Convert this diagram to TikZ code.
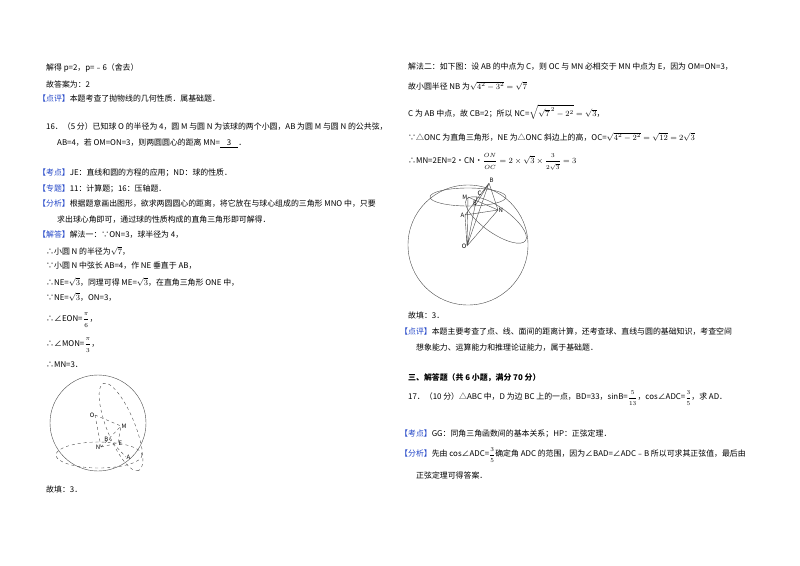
\documentclass[tikz,border=0pt]{standalone}
\usepackage{fontspec}
\setmainfont{Noto Sans CJK SC}
\usepackage{amsmath}
\definecolor{kb}{RGB}{35,70,200}
\begin{document}
\begin{tikzpicture}[x=1pt,y=-1pt,
  t/.style={anchor=west,inner sep=0pt,font=\fontsize{7.9}{9}\selectfont},
  pt/.style={font=\fontsize{6}{7}\selectfont\itshape,inner sep=0.5pt},
  g/.style={line width=0.4pt,black!70}]
\useasboundingbox[fill=white] (0,0) rectangle (800,565);
\newcommand{\kb}[1]{\textcolor{kb}{【#1】}}
\newcommand{\fr}[2]{{\displaystyle\frac{\scriptstyle #1}{\scriptstyle #2}}}
% left column
\node[t] (l1) at (46,68) {解得 p=2，p=﹣6（舍去）};
\node[t] (l2) at (46,84) {故答案为：2};
\node[t] (l3) at (38,98) {\kb{点评}本题考查了抛物线的几何性质．属基础题．};
\node[t] (l4) at (46,127) {16．（5 分）已知球 O 的半径为 4，圆 M 与圆 N 为该球的两个小圆，AB 为圆 M 与圆 N 的公共弦，};
\node[t] (l5) at (57,143) {AB=4，若 OM=ON=3，则两圆圆心的距离 MN=\underline{\ \ \ \ 3\ \ \ \ }．};
\node[t] (l6) at (38,173) {\kb{考点}JE：直线和圆的方程的应用；ND：球的性质．};
\node[t] (l7) at (38,189) {\kb{专题}11：计算题；16：压轴题．};
\node[t] (l8) at (38,204) {\kb{分析}根据题意画出图形，欲求两圆圆心的距离，将它放在与球心组成的三角形 MNO 中，只要};
\node[t] (l9) at (57,220) {求出球心角即可，通过球的性质构成的直角三角形即可解得．};
\node[t] (l10) at (38,235) {\kb{解答}解法一：∵ON=3，球半径为 4，};
\node[t] (l11) at (46,251) {∴小圆 N 的半径为$\sqrt{7}$，};
\node[t] (l12) at (46,266) {∵小圆 N 中弦长 AB=4，作 NE 垂直于 AB，};
\node[t] (l13) at (46,282) {∴NE=$\sqrt{3}$，同理可得 ME=$\sqrt{3}$，在直角三角形 ONE 中，};
\node[t] (l14) at (46,297) {∵NE=$\sqrt{3}$，ON=3，};
\node[t] (l15) at (46,320) {∴∠EON=$\fr{\pi}{6}$，};
\node[t] (l16) at (46,345) {∴∠MON=$\fr{\pi}{3}$，};
\node[t] (l17) at (46,365) {∴MN=3．};
\node[t] (l18) at (46,489) {故填：3．};
% sphere 1
\draw[g] (98,423) circle (48);
\draw[g,dashed] (99,455) ellipse (43 and 13);
\draw[g,dashed,rotate around={-68:(121,427)}] (121,427) ellipse (47 and 14);
\coordinate (O1) at (95,415); \coordinate (M1) at (121,426);
\coordinate (N1) at (101,447); \coordinate (B1) at (109,439);
\coordinate (E1) at (118,443); \coordinate (A1) at (126,457);
\draw[g,dashed] (O1)--(M1) (O1)--(N1) (N1)--(E1)--(M1) (B1)--(A1) (N1)--(M1);
\node[pt,left] at (O1) {O}; \node[pt,right] at (M1) {M};
\node[pt,left] at (N1) {N}; \node[pt,left] at (B1) {B};
\node[pt,right] at (E1) {E}; \node[pt,right] at (A1) {A};
% right column
\node[t] (r1) at (408,67) {解法二：如下图：设 AB 的中点为 C，则 OC 与 MN 必相交于 MN 中点为 E，因为 OM=ON=3，};
\node[t] (r2) at (408,86) {故小圆半径 NB 为$\sqrt{4^2-3^2}=\sqrt{7}$};
\node[t] (r3) at (408,112) {C 为 AB 中点，故 CB=2；所以 NC=$\sqrt{\sqrt{7}^{\,2}-2^2}=\sqrt{3}$，};
\node[t] (r4) at (408,137) {∵△ONC 为直角三角形，NE 为△ONC 斜边上的高，OC=$\sqrt{4^2-2^2}=\sqrt{12}=2\sqrt{3}$};
\node[t] (r5) at (408,162) {∴MN=2EN=2•CN•$\fr{ON}{OC}=2\times\sqrt{3}\times\fr{3}{2\sqrt{3}}=3$};
% sphere 2
\draw[g] (468,245) circle (60);
\draw[g] (468,197) ellipse (38 and 9);
\draw[g,rotate around={-35:(496,220)}] (496,220) ellipse (36 and 13);
\coordinate (O2) at (467,246); \coordinate (B2) at (489,183);
\coordinate (M2) at (468,197); \coordinate (C2) at (477,196);
\coordinate (E2) at (475,206); \coordinate (A2) at (465,215);
\coordinate (N2) at (498,210);
\draw[g] (O2)--(B2) (O2)--(A2) (O2)--(N2) (O2)--(M2) (M2)--(N2) (A2)--(B2) (B2)--(N2) (O2)--(C2) (A2)--(N2) (B2)--(E2);
\node[pt,above right] at (B2) {B}; \node[pt,left] at (M2) {M};
\node[pt,above right] at (C2) {C}; \node[pt,above] at (E2) {E};
\node[pt,left] at (A2) {A}; \node[pt,right] at (N2) {N};
\node[pt,left] at (O2) {O};
\node[t] (r6) at (408,315) {故填：3．};
\node[t] (r7) at (400,332) {\kb{点评}本题主要考查了点、线、面间的距离计算，还考查球、直线与圆的基础知识，考查空间};
\node[t] (r8) at (416,348) {想象能力、运算能力和推理论证能力，属于基础题．};
\node[t] (r9) at (408,378) {\textbf{三、解答题（共 6 小题，满分 70 分）}};
\node[t] (r10) at (408,398) {17．（10 分）△ABC 中，D 为边 BC 上的一点，BD=33，sinB=$\fr{5}{13}$，cos∠ADC=$\fr{3}{5}$，求 AD．};
\node[t] (r11) at (400,434) {\kb{考点}GG：同角三角函数间的基本关系；HP：正弦定理．};
\node[t] (r12) at (400,455) {\kb{分析}先由 cos∠ADC=$\fr{3}{5}$确定角 ADC 的范围，因为∠BAD=∠ADC﹣B 所以可求其正弦值，最后由};
\node[t] (r13) at (416,475) {正弦定理可得答案．};
\end{tikzpicture}
\end{document}
